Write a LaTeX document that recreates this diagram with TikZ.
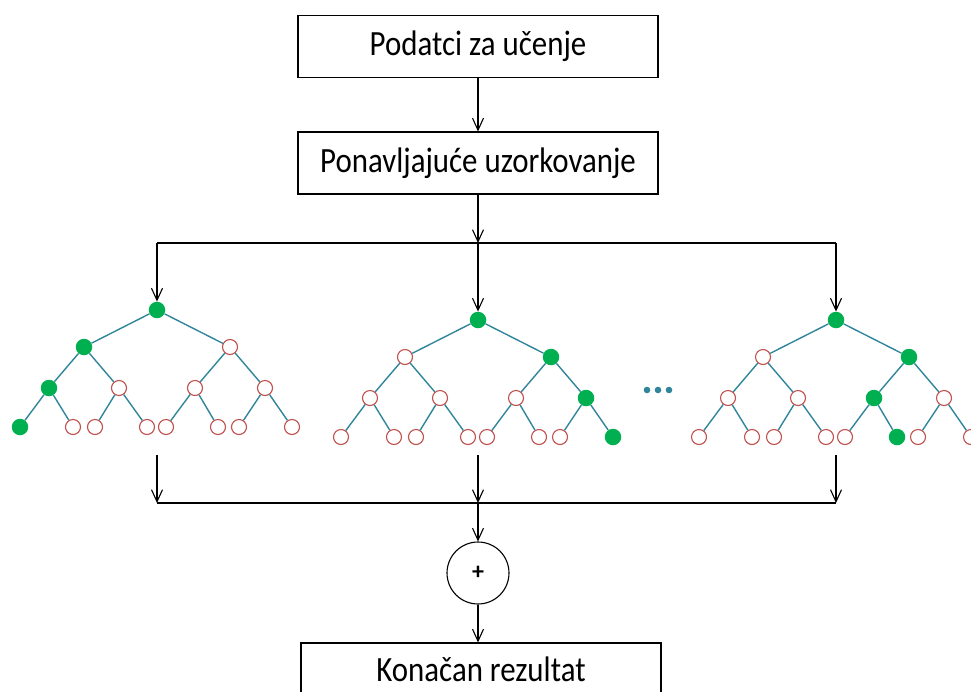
\documentclass[tikz,border=0pt]{standalone}
\usepackage{fontspec}
\setmainfont{Carlito}
\newfontfamily\boxfont[FakeStretch=0.87]{Carlito}
\usetikzlibrary{arrows.meta}
\definecolor{bagedge}{RGB}{49,133,155}
\definecolor{bagred}{RGB}{192,80,77}
\definecolor{baggreen}{RGB}{0,176,80}

% one tree of the ensemble: #1 name, #2 root, #3 index of the green leaf
\newcommand{\bagtree}[3]{%
\begin{scope}[shift={#2}]
	\foreach \k/\d/\x/\y in {1/0/0/0, 2/1/-73/37, 3/1/73/37,
		4/2/-108/78, 5/2/-38/78, 6/2/38/78, 7/2/108/78,
		8/3/-137/117, 9/3/-84/117, 10/3/-62/117, 11/3/-10/117,
		12/3/9/117, 13/3/61/117, 14/3/82/117, 15/3/135/117}{
		\pgfmathtruncatemacro{\anc}{floor(#3/2^(3-\d))}
		\ifnum\anc=\k \def\st{nodeon}\else\def\st{nodeoff}\fi
		\node[\st] (#1-\k) at (\x,\y) {};
	}
	\foreach \k in {2,...,15}{
		\pgfmathtruncatemacro{\up}{floor(\k/2)}
		\draw[branch] (#1-\up) -- (#1-\k);
	}
\end{scope}}

\begin{document}
\begin{tikzpicture}[x=1pt,y=-1pt,
	box/.style={draw,line width=1.1pt,minimum width=360pt,minimum height=62pt,
		inner sep=0pt,font=\boxfont\fontsize{35.5}{40}\selectfont},
	flow/.style={-{Straight Barb[length=12pt,width=11pt]},line width=1.1pt},
	line/.style={line width=1.1pt},
	nodeoff/.style={circle,draw=bagred,fill=white,line width=1.1pt,
		minimum size=15pt,inner sep=0pt},
	nodeon/.style={circle,fill=baggreen,minimum size=16.5pt,inner sep=0pt},
	branch/.style={bagedge,line width=1.4pt}]
\useasboundingbox (0,0) rectangle (971,691);
\clip (0,0) rectangle (971,691);

%========================================
% TOP: data and bootstrap sampling
%========================================
\node[box] (data) at (478,46.5) {Podatci za učenje};
\node[box] (sample) at (478,163) {Ponavljajuće uzorkovanje};
\draw[flow] (data) -- (sample);

%========================================
% MIDDLE: the trees
%========================================
\bagtree{t1}{(157,310)}{8}
\bagtree{t2}{(478,320)}{15}
\bagtree{t3}{(836,320)}{13}

% dots between the trees
\foreach \x in {647,658,669}
\fill[bagedge] (\x,390) circle (3.3pt);

% split to the trees
\coordinate (fanM) at (t2-1 |- 0,243);
\coordinate (fanL) at (t1-1 |- 0,243);
\coordinate (fanR) at (t3-1 |- 0,243);
\draw[flow] (sample) -- (fanM);
\draw[line] (fanL) -- (fanR);
\draw[flow] (fanL) -- (t1-1);
\draw[flow] (fanM) -- (t2-1);
\draw[flow] (fanR) -- (t3-1);

%========================================
% BOTTOM: combining the votes
%========================================
\coordinate (outL) at (t1-1 |- 0,455);
\coordinate (outM) at (t2-1 |- 0,455);
\coordinate (outR) at (t3-1 |- 0,455);
\coordinate (joinL) at (t1-1 |- 0,503);
\coordinate (joinM) at (t2-1 |- 0,503);
\coordinate (joinR) at (t3-1 |- 0,503);
\draw[flow] (outL) -- (joinL);
\draw[flow] (outM) -- (joinM);
\draw[flow] (outR) -- (joinR);
\draw[line] (joinL) -- (joinR);

\node[circle,draw,line width=1.1pt,minimum size=62pt,inner sep=0pt,
	font=\bfseries\fontsize{24}{28}\selectfont] (plus) at (478,573) {+};
\draw[flow] (joinM) -- (plus);

% bottom edge of this box lies below the page
\node[box,minimum height=52pt] (result) at (481,669) {Konačan rezultat};
\draw[flow] (plus) -- (plus |- result.north);
\end{tikzpicture}
\end{document}
